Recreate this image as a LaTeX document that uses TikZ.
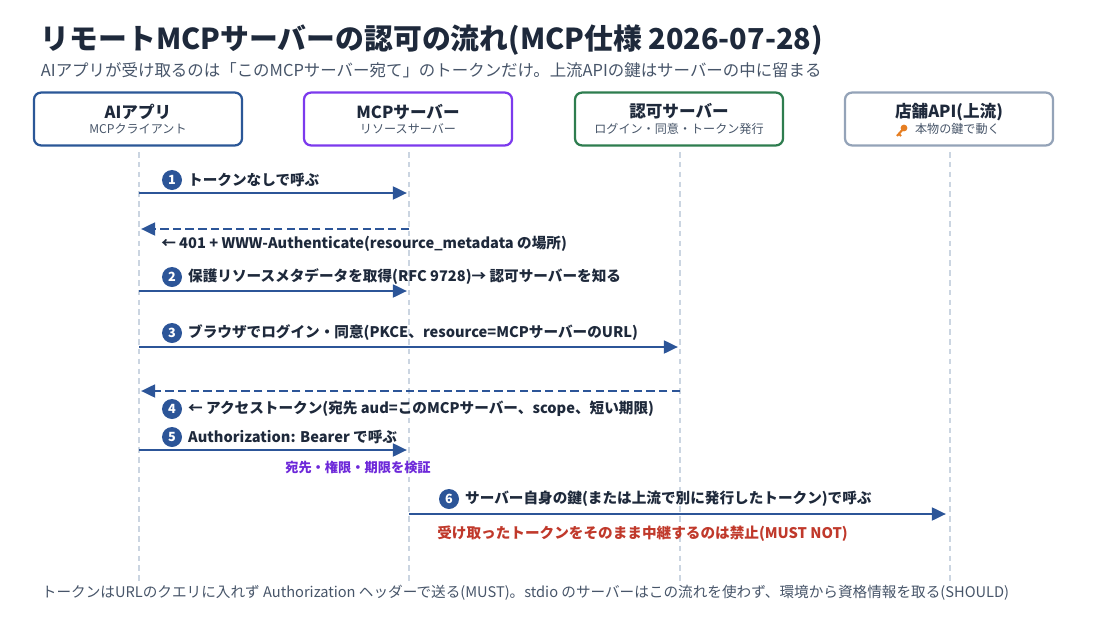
\documentclass[tikz,border=0pt]{standalone}
\usepackage{fontspec}
\setmainfont{Noto Sans CJK JP}
\usetikzlibrary{positioning,arrows.meta}
\definecolor{ink}{HTML}{1E293B}
\definecolor{subink}{HTML}{475569}
\definecolor{flow}{HTML}{2C5598}
\definecolor{cliC}{HTML}{2B5797}
\definecolor{srvC}{HTML}{7C3AED}
\definecolor{authC}{HTML}{2E7D4F}
\definecolor{apiC}{HTML}{94A3B8}
\definecolor{lifeC}{HTML}{CBD5E1}
\definecolor{warnC}{HTML}{C0392B}
\definecolor{chkC}{HTML}{6D28D9}
\definecolor{keyC}{HTML}{E67E22}

\begin{document}
\begin{tikzpicture}[
    x=0.025cm, y=-0.025cm,
    actor/.style={draw, line width=1.6pt, rounded corners=5pt, fill=white, minimum width=5.2cm, minimum height=1.32cm, align=center, text=ink},
    life/.style={draw=lifeC, line width=1.3pt, dash pattern=on 4pt off 3pt},
    call/.style={draw=flow, line width=2pt, -{Triangle[length=10pt,width=9pt]}},
    reply/.style={call, dash pattern=on 6pt off 3pt},
    msg/.style={anchor=west, font=\fontsize{10.4}{12}\selectfont\bfseries, text=ink, inner sep=0pt},
    stepno/.style={circle, fill=flow, text=white, font=\fontsize{9}{9}\selectfont\bfseries, inner sep=0pt, minimum size=0.5cm}
]
\useasboundingbox (0,0) rectangle (1100,618);

% title
\node[anchor=west, font=\fontsize{20.5}{24}\selectfont\bfseries, text=ink] (title) at (36,40) {リモートMCPサーバーの認可の流れ(MCP仕様 2026-07-28)};
\node[anchor=west, font=\fontsize{11.7}{13}\selectfont, text=subink] (sub) at (36,70) {AIアプリが受け取るのは「このMCPサーバー宛て」のトークンだけ。上流APIの鍵はサーバーの中に留まる};

% actors
\node[actor, draw=cliC] (cli) at (138,119) {{\fontsize{11.8}{14}\selectfont\bfseries AIアプリ}\\[-1pt]{\fontsize{8.6}{10}\selectfont\color{subink}MCPクライアント}};
\node[actor, draw=srvC] (srv) at (408,119) {{\fontsize{11.8}{14}\selectfont\bfseries MCPサーバー}\\[-1pt]{\fontsize{8.6}{10}\selectfont\color{subink}リソースサーバー}};
\node[actor, draw=authC] (auth) at (679,119) {{\fontsize{11.8}{14}\selectfont\bfseries 認可サーバー}\\[-1pt]{\fontsize{8.6}{10}\selectfont\color{subink}ログイン・同意・トークン発行}};
\node[actor, draw=apiC] (api) at (949,119) {{\fontsize{11.8}{14}\selectfont\bfseries 店舗API(上流)}\\[-1pt]{\fontsize{8.6}{10}\selectfont\color{subink}\hspace{12pt}本物の鍵で動く}};
% key icon
\fill[keyC] (904,128) circle (3.4);
\draw[keyC, line width=1.5pt] (904,128) -- (897,136) (899,134) -- (901,136);

% lifelines
\foreach \a/\x in {cli/139, srv/409, auth/680, api/950}
  \coordinate (\a top) at (\x,152);
\foreach \a/\x in {cli/139, srv/409, auth/680, api/950}
  \coordinate (\a bot) at (\x,582);
\foreach \a in {cli, srv, auth, api}
  \draw[life] (\a top) -- (\a bot);

% messages
\coordinate (c1) at (139,193); \coordinate (s1) at (407,193);
\draw[call] (c1) -- (s1);
\node[stepno] (n1) at (172,180) {1};
\node[msg, right=4pt of n1] {トークンなしで呼ぶ};

\coordinate (s2) at (409,229); \coordinate (c2) at (141,229);
\draw[reply] (s2) -- (c2);
\node[msg] (m2) at (161,244) {← 401 + WWW-Authenticate(resource\_metadata の場所)};

\coordinate (c3) at (139,291); \coordinate (s3) at (407,291);
\draw[call] (c3) -- (s3);
\node[stepno] (n3) at (172,277) {2};
\node[msg, right=4pt of n3] {保護リソースメタデータを取得(RFC 9728)→ 認可サーバーを知る};

\coordinate (c4) at (139,347); \coordinate (a4) at (678,347);
\draw[call] (c4) -- (a4);
\node[stepno] (n4) at (172,333) {3};
\node[msg, right=4pt of n4] {ブラウザでログイン・同意(PKCE、resource=MCPサーバーのURL)};

\coordinate (a5) at (680,391); \coordinate (c5) at (141,391);
\draw[reply] (a5) -- (c5);
\node[stepno] (n5) at (172,409) {4};
\node[msg, right=4pt of n5] {← アクセストークン(宛先 aud=このMCPサーバー、scope、短い期限)};

\coordinate (c6) at (139,450); \coordinate (s6) at (407,450);
\draw[call] (c6) -- (s6);
\node[stepno] (n6) at (172,437) {5};
\node[msg, right=4pt of n6] {Authorization: Bearer で呼ぶ};
\node[msg, anchor=center, text=chkC, font=\fontsize{9.4}{11}\selectfont\bfseries] (chk) at (358,467) {宛先・権限・期限を検証};

\coordinate (s7) at (409,514); \coordinate (p7) at (946,514);
\draw[call] (s7) -- (p7);
\node[stepno] (n7) at (449,499) {6};
\node[msg, right=4pt of n7] {サーバー自身の鍵(または上流で別に発行したトークン)で呼ぶ};
\node[msg, text=warnC] (warn) at (437,534) {受け取ったトークンをそのまま中継するのは禁止(MUST NOT)};

% footer
\node[anchor=west, font=\fontsize{10.4}{12}\selectfont, text=subink] (foot) at (37,593) {トークンはURLのクエリに入れず Authorization ヘッダーで送る(MUST)。stdio のサーバーはこの流れを使わず、環境から資格情報を取る(SHOULD)};
\end{tikzpicture}
\end{document}
